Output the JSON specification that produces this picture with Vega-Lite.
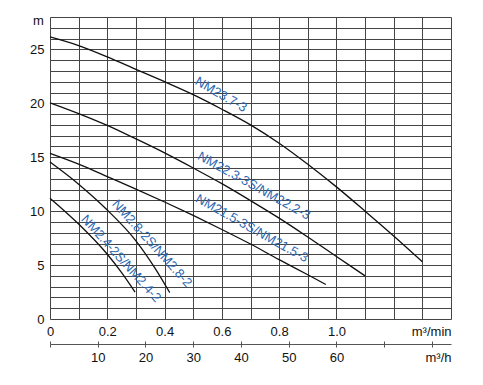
{
  "$schema": "https://vega.github.io/schema/vega-lite/v6.json",
  "width": 401,
  "height": 302,
  "autosize": {"type": "none"},
  "padding": {"left": 50, "top": 17, "right": 32, "bottom": 66},
  "background": "white",
  "config": {"view": {"stroke": null}, "font": "Liberation Sans"},
  "datasets": {
    "curves": [
      {"pump": "NM23.7-3", "q": 0, "h": 26.15},
      {"pump": "NM23.7-3", "q": 0.1, "h": 25.35},
      {"pump": "NM23.7-3", "q": 0.2, "h": 24.3},
      {"pump": "NM23.7-3", "q": 0.3, "h": 23.15},
      {"pump": "NM23.7-3", "q": 0.4, "h": 22.0},
      {"pump": "NM23.7-3", "q": 0.5, "h": 20.8},
      {"pump": "NM23.7-3", "q": 0.6, "h": 19.45},
      {"pump": "NM23.7-3", "q": 0.7, "h": 18.0},
      {"pump": "NM23.7-3", "q": 0.8, "h": 16.3},
      {"pump": "NM23.7-3", "q": 0.9, "h": 14.35},
      {"pump": "NM23.7-3", "q": 1.0, "h": 12.25},
      {"pump": "NM23.7-3", "q": 1.1, "h": 10.0},
      {"pump": "NM23.7-3", "q": 1.2, "h": 7.7},
      {"pump": "NM23.7-3", "q": 1.3, "h": 5.3},
      {"pump": "NM22.3-3S", "q": 0, "h": 20.05},
      {"pump": "NM22.3-3S", "q": 0.1, "h": 19.05},
      {"pump": "NM22.3-3S", "q": 0.2, "h": 17.95},
      {"pump": "NM22.3-3S", "q": 0.3, "h": 16.7},
      {"pump": "NM22.3-3S", "q": 0.4, "h": 15.4},
      {"pump": "NM22.3-3S", "q": 0.5, "h": 14.0},
      {"pump": "NM22.3-3S", "q": 0.6, "h": 12.55},
      {"pump": "NM22.3-3S", "q": 0.7, "h": 10.98},
      {"pump": "NM22.3-3S", "q": 0.8, "h": 9.35},
      {"pump": "NM22.3-3S", "q": 0.9, "h": 7.6},
      {"pump": "NM22.3-3S", "q": 1.0, "h": 5.8},
      {"pump": "NM22.3-3S", "q": 1.1, "h": 4.0},
      {"pump": "NM21.5-3S", "q": 0, "h": 15.35},
      {"pump": "NM21.5-3S", "q": 0.1, "h": 14.35},
      {"pump": "NM21.5-3S", "q": 0.2, "h": 13.2},
      {"pump": "NM21.5-3S", "q": 0.3, "h": 12.05},
      {"pump": "NM21.5-3S", "q": 0.4, "h": 10.85},
      {"pump": "NM21.5-3S", "q": 0.5, "h": 9.6},
      {"pump": "NM21.5-3S", "q": 0.6, "h": 8.3},
      {"pump": "NM21.5-3S", "q": 0.7, "h": 6.95},
      {"pump": "NM21.5-3S", "q": 0.8, "h": 5.5},
      {"pump": "NM21.5-3S", "q": 0.9, "h": 4.1},
      {"pump": "NM21.5-3S", "q": 0.963, "h": 3.2},
      {"pump": "NM2.8-2S", "q": 0, "h": 14.55},
      {"pump": "NM2.8-2S", "q": 0.1, "h": 12.5},
      {"pump": "NM2.8-2S", "q": 0.2, "h": 10.1},
      {"pump": "NM2.8-2S", "q": 0.3, "h": 7.25},
      {"pump": "NM2.8-2S", "q": 0.367, "h": 4.7},
      {"pump": "NM2.8-2S", "q": 0.418, "h": 2.45},
      {"pump": "NM2.4-2S", "q": 0, "h": 11.2},
      {"pump": "NM2.4-2S", "q": 0.1, "h": 8.8},
      {"pump": "NM2.4-2S", "q": 0.2, "h": 6.0},
      {"pump": "NM2.4-2S", "q": 0.25, "h": 4.3},
      {"pump": "NM2.4-2S", "q": 0.297, "h": 2.5}
    ],
    "labels": [
      {"label": "NM23.7-3", "q": 0.597, "h": 20.8},
      {"label": "NM22.3-3S/NM22.2-3", "q": 0.712, "h": 12.35},
      {"label": "NM21.5-3S/NM21.5-3", "q": 0.705, "h": 8.4},
      {"label": "NM2.8-2S/NM2.8-2", "q": 0.356, "h": 7.0},
      {"label": "NM2.4-2S/NM2.4-2", "q": 0.248, "h": 5.6}
    ],
    "flow": [{"qh": 0}, {"qh": 84}]
  },
  "layer": [
    {
      "encoding": {
        "x": {
          "field": "q", "type": "quantitative",
          "scale": {"domain": [0, 1.4], "nice": false, "zero": false},
          "axis": {
            "orient": "bottom",
            "values": [0, 0.1, 0.2, 0.3, 0.4, 0.5, 0.6, 0.7, 0.8, 0.9, 1.0, 1.1, 1.2, 1.3, 1.4],
            "grid": true, "gridColor": "#444444", "gridOpacity": 1, "gridWidth": 1,
            "domain": false, "ticks": false, "tickSize": 0,
            "labelPadding": 6, "labelFontSize": 13, "labelColor": "#111111",
            "labelFont": "Liberation Sans",
            "labelFlush": false, "labelOverlap": false,
            "labelExpr": "datum.value < 0.001 ? '0' : ((round(datum.value * 10) % 2 == 0 && datum.value < 1.05) ? format(datum.value, '.1f') : '')",
            "title": "m³/min", "titleFont": "Liberation Sans", "titleFontSize": 13, "titleFontWeight": "normal", "titleColor": "#111111",
            "titleAnchor": "end", "titleAlign": "right", "titleBaseline": "top", "titleX": 401, "titleY": 6
          }
        },
        "y": {
          "field": "h", "type": "quantitative",
          "scale": {"domain": [0, 28], "nice": false, "zero": true},
          "axis": {
            "values": [0, 1, 2, 3, 4, 5, 6, 7, 8, 9, 10, 11, 12, 13, 14, 15, 16, 17, 18, 19, 20, 21, 22, 23, 24, 25, 26, 27, 28],
            "grid": true, "gridColor": "#444444", "gridOpacity": 1, "gridWidth": 1,
            "domain": false, "ticks": false, "tickSize": 0,
            "labelPadding": 6, "labelFontSize": 13, "labelColor": "#111111",
            "labelFont": "Liberation Sans",
            "labelFlush": false, "labelOverlap": false,
            "labelExpr": "(datum.value % 5 == 0 && datum.value <= 25) ? datum.label : ''",
            "title": "m", "titleFont": "Liberation Sans", "titleFontSize": 13, "titleFontWeight": "normal", "titleColor": "#111111",
            "titleAngle": 0, "titleAlign": "center", "titleBaseline": "alphabetic", "titleX": -12, "titleY": 7
          }
        }
      },
      "layer": [
        {
          "data": {"name": "curves"},
          "mark": {"type": "line", "interpolate": "monotone", "color": "#111111", "strokeWidth": 1.3},
          "encoding": {
            "detail": {"field": "pump", "type": "nominal"}
          }
        },
        {
          "data": {"name": "labels"},
          "transform": [{"filter": "datum.label === 'NM23.7-3'"}],
          "mark": {"type": "text", "angle": 30, "fontSize": 13, "font": "Liberation Sans", "color": "#2b67b1", "align": "center", "baseline": "middle"},
          "encoding": {"text": {"field": "label"}}
        },
        {
          "data": {"name": "labels"},
          "transform": [{"filter": "datum.label === 'NM22.3-3S/NM22.2-3'"}],
          "mark": {"type": "text", "angle": 29, "fontSize": 13, "font": "Liberation Sans", "color": "#2b67b1", "align": "center", "baseline": "middle"},
          "encoding": {"text": {"field": "label"}}
        },
        {
          "data": {"name": "labels"},
          "transform": [{"filter": "datum.label === 'NM21.5-3S/NM21.5-3'"}],
          "mark": {"type": "text", "angle": 29, "fontSize": 13, "font": "Liberation Sans", "color": "#2b67b1", "align": "center", "baseline": "middle"},
          "encoding": {"text": {"field": "label"}}
        },
        {
          "data": {"name": "labels"},
          "transform": [{"filter": "datum.label === 'NM2.8-2S/NM2.8-2' || datum.label === 'NM2.4-2S/NM2.4-2'"}],
          "mark": {"type": "text", "angle": 48, "fontSize": 13, "font": "Liberation Sans", "color": "#2b67b1", "align": "center", "baseline": "middle"},
          "encoding": {"text": {"field": "label"}}
        }
      ]
    },
    {
      "data": {"name": "flow"},
      "mark": {"type": "point", "opacity": 0},
      "encoding": {
        "x": {
          "field": "qh", "type": "quantitative",
          "scale": {"domain": [0, 84], "nice": false, "zero": false},
          "axis": {
            "orient": "bottom", "offset": 25,
            "values": [0, 10, 20, 30, 40, 50, 60, 70, 80],
            "grid": false, "domain": true, "domainColor": "#555555", "domainWidth": 1,
            "ticks": true, "tickColor": "#555555", "tickSize": 3, "tickWidth": 1,
            "labelPadding": 4, "labelFontSize": 13, "labelColor": "#111111",
            "labelFont": "Liberation Sans",
            "labelFlush": false, "labelOverlap": false,
            "labelExpr": "(datum.value >= 10 && datum.value <= 60) ? datum.label : ''",
            "title": "m³/h", "titleFont": "Liberation Sans", "titleFontSize": 13, "titleFontWeight": "normal", "titleColor": "#111111",
            "titleAnchor": "end", "titleAlign": "right", "titleBaseline": "top", "titleX": 401, "titleY": 7
          }
        }
      }
    },
    {
      "data": {"name": "flow"},
      "mark": {"type": "point", "opacity": 0},
      "encoding": {
        "x": {
          "field": "qh", "type": "quantitative",
          "scale": {"domain": [0, 84], "nice": false, "zero": false},
          "axis": {
            "orient": "bottom", "offset": 25,
            "values": [0, 10, 20, 30, 40, 50, 60, 70, 80],
            "grid": false, "domain": false, "labels": false,
            "ticks": true, "tickColor": "#555555", "tickSize": -3, "tickWidth": 1,
            "title": null
          }
        }
      }
    }
  ],
  "resolve": {"scale": {"x": "independent"}}
}
